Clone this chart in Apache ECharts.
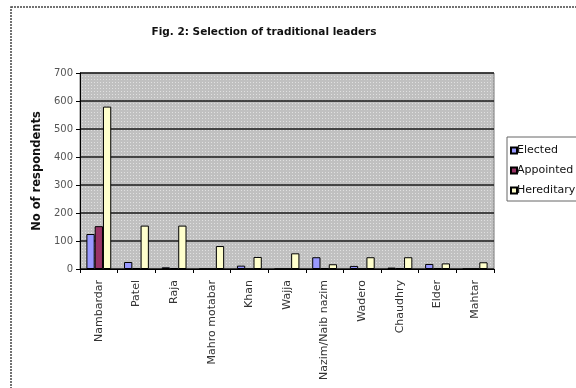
<!DOCTYPE html>
<html>
<head>
<meta charset="utf-8">
<script src="https://cdn.jsdelivr.net/npm/echarts@6/dist/echarts.min.js"></script>
<style>
  html, body { margin: 0; padding: 0; background: #fff; }
  #chart { width: 576px; height: 388px; }
</style>
</head>
<body>
<div id="chart"></div>
<script>
// Leader titles and how respondents said each one is selected
const categories = ['Nambardar', 'Patel', 'Raja', 'Mahro motabar', 'Khan', 'Wajja',
  'Nazim/Naib nazim', 'Wadero', 'Chaudhry', 'Elder', 'Mahtar'];
const elected    = [125, 25, 6, 0, 12, 0, 42, 11, 5, 18, 0];
const appointed  = [153, 3, 3, 0, 0, 0, 2, 0, 3, 3, 0];
const hereditary = [580, 155, 155, 82, 43, 56, 17, 42, 42, 20, 24];
const yTicks = [0, 100, 200, 300, 400, 500, 600, 700];

const FONT = 'DejaVu Sans, Verdana, sans-serif';

// Light dotted fill for the plotting area
function dotPattern() {
  const c = document.createElement('canvas');
  c.width = 3; c.height = 3;
  const g = c.getContext('2d');
  g.fillStyle = '#c0c0c0';
  g.fillRect(0, 0, 3, 3);
  g.fillStyle = '#e0e0e0';
  g.fillRect(1, 1, 1, 1);
  return c;
}

const chart = echarts.init(document.getElementById('chart'), null, { renderer: 'canvas' });

function barSeries(name, data, color) {
  return {
    name: name,
    type: 'bar',
    data: data,
    barGap: '0%',
    barCategoryGap: '34%',
    itemStyle: { color: color, borderColor: '#000', borderWidth: 1 },
    emphasis: { disabled: true }
  };
}

chart.setOption({
  animation: false,
  backgroundColor: '#fff',
  title: {
    text: 'Fig. 2: Selection of traditional leaders',
    left: 259, top: 22, textAlign: 'center',
    textStyle: { fontFamily: FONT, fontSize: 10.5, fontWeight: 'bold', color: '#111' }
  },
  graphic: [
    {
      type: 'rect', z: -1,
      shape: { x: 11, y: 7, width: 620, height: 420 },
      style: { fill: 'none', stroke: '#444', lineWidth: 1.5, lineDash: [2, 1] }
    },
    {
      type: 'rect', z: -1,
      shape: { x: 507, y: 137, width: 100, height: 64 },
      style: { fill: '#fff', stroke: '#666', lineWidth: 1 }
    }
  ],
  legend: {
    orient: 'vertical',
    left: 510, top: 145, padding: 0,
    itemWidth: 6, itemHeight: 6, itemGap: 9,
    icon: 'rect',
    textStyle: { fontFamily: FONT, fontSize: 11, color: '#111', padding: [0, 0, 0, -5] },
    data: ['Elected', 'Appointed', 'Hereditary']
  },
  grid: {
    left: 80, top: 73, width: 414, height: 196,
    show: true,
    backgroundColor: { image: dotPattern(), repeat: 'repeat' },
    borderColor: '#777', borderWidth: 1
  },
  xAxis: {
    type: 'category',
    data: categories,
    axisLine: { lineStyle: { color: '#000', width: 1 } },
    axisTick: { show: true, length: 4, lineStyle: { color: '#000' } },
    axisLabel: {
      rotate: 90, margin: 11, interval: 0,
      fontFamily: FONT, fontSize: 11, color: '#333'
    }
  },
  yAxis: {
    type: 'value',
    min: yTicks[0], max: yTicks[yTicks.length - 1], interval: 100,
    name: 'No of respondents',
    nameLocation: 'middle', nameGap: 36, nameRotate: 90,
    nameTextStyle: { fontFamily: FONT, fontSize: 11.5, fontWeight: 'bold', color: '#111' },
    axisLine: { show: true, lineStyle: { color: '#000' } },
    axisTick: { show: true, length: 4, lineStyle: { color: '#000' } },
    axisLabel: { fontFamily: FONT, fontSize: 10, color: '#555', margin: 7 },
    splitLine: { show: true, lineStyle: { color: '#1a1a1a', width: 1.5 } }
  },
  series: [
    barSeries('Elected', elected, '#9999ff'),
    barSeries('Appointed', appointed, '#993366'),
    barSeries('Hereditary', hereditary, '#ffffcc')
  ]
});
</script>
</body>
</html>
